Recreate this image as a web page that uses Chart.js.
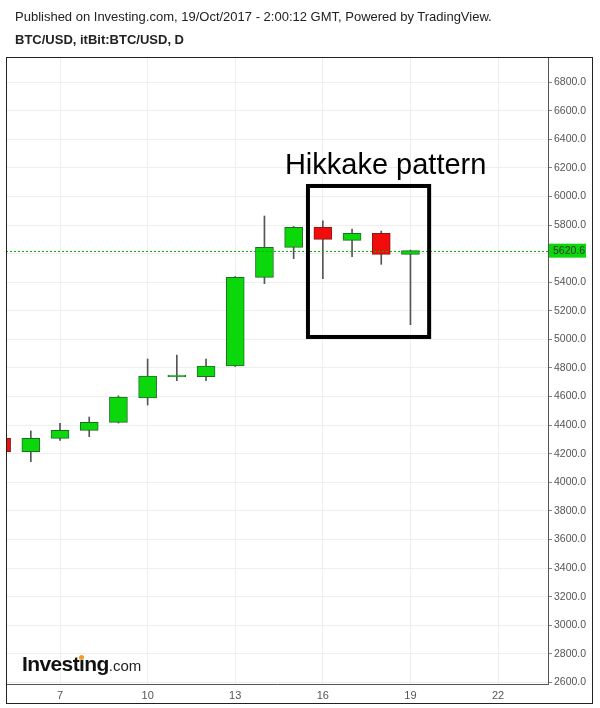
<!DOCTYPE html>
<html>
<head>
<meta charset="utf-8">
<script src="https://cdn.jsdelivr.net/npm/chart.js@4"></script>
<style>
  html, body { margin: 0; padding: 0; background: #fff; }
  #wrap { position: relative; width: 600px; height: 708px; font-family: Arial, "Liberation Sans", sans-serif; }
  #graph1 { position: absolute; left: 0; top: 0; }
  .hdr { position: absolute; left: 15px; font-size: 13px; color: #222; white-space: nowrap; }
  #logo { position: absolute; left: 22px; top: 652px; white-space: nowrap; color: #111; }
  #logo b { font-size: 21px; letter-spacing: -0.6px; }
  #logo span { font-size: 15px; color: #222; }
  #dot { position: absolute; width: 5px; height: 5px; border-radius: 50%; background: #f0a020; }
</style>
</head>
<body>
<div id="wrap">
  <canvas id="graph1" width="600" height="708"></canvas>
  <div class="hdr" style="top:9px">Published on Investing.com, 19/Oct/2017 - 2:00:12 GMT, Powered by TradingView.</div>
  <div class="hdr" style="top:32px;font-weight:bold">BTC/USD, itBit:BTC/USD, D</div>
  <div id="logo"><b id="brand">Invest<i id="ii" style="font-style:normal">i</i>ng</b><span>.com</span></div>
  <div id="dot"></div>
</div>
<script>
// dias de outubro e valores OHLC
const days   = [5, 6, 7, 8, 9, 10, 11, 12, 13, 14, 15, 16, 17, 18, 19];
const opens  = [4308, 4215, 4308, 4364, 4420, 4590, 4740, 4740, 4814, 5434, 5644, 5784, 5693, 5742, 5595];
const highs  = [4320, 4360, 4413, 4457, 4605, 4863, 4891, 4863, 5440, 5863, 5790, 5830, 5772, 5758, 5625];
const lows   = [4200, 4145, 4294, 4320, 4415, 4541, 4712, 4712, 4810, 5390, 5565, 5425, 5579, 5525, 5103];
const closes = [4215, 4308, 4364, 4420, 4597, 4744, 4750, 4814, 5434, 5644, 5784, 5700, 5742, 5595, 5620.6];

const xTicks = [7, 10, 13, 16, 19, 22];
const yTicks = [2600, 2800, 3000, 3200, 3400, 3600, 3800, 4000, 4200, 4400, 4600, 4800,
                5000, 5200, 5400, 5600, 5800, 6000, 6200, 6400, 6600, 6800];

const lastPrice = 5620.6;
const boxLabel = 'Hikkake pattern';
const boxX = [15.49, 19.64];
const boxY = [5017, 6073];

const bodies = days.map((d, i) => ({ x: d, y: [opens[i], closes[i]] }));
const wicks = days.map((d, i) => ({ x: d, y: [lows[i], highs[i]] }));
const isUp = i => closes[i] >= opens[i];

// pingo laranja do logo, posto sobre o "i"
(function () {
    const ii = document.getElementById('ii').getBoundingClientRect();
    const dot = document.getElementById('dot');
    dot.style.left = (ii.left + ii.width / 2 - 2.5) + 'px';
    dot.style.top = (ii.top + ii.height * 0.22 - 2) + 'px';
})();

const extras = {
    id: 'extras',
    afterDatasetsDraw(chart) {
        const ctx = chart.ctx;
        const xs = chart.scales.x, ys = chart.scales.y;
        const area = chart.chartArea;
        ctx.save();
        // linha do último preço
        const py = Math.round(ys.getPixelForValue(lastPrice)) + 0.5;
        ctx.strokeStyle = '#00b400';
        ctx.lineWidth = 1;
        ctx.setLineDash([2, 2]);
        ctx.beginPath();
        ctx.moveTo(area.left, py);
        ctx.lineTo(area.right, py);
        ctx.stroke();
        ctx.setLineDash([]);
        // caixa do padrão
        ctx.strokeStyle = '#000';
        ctx.lineWidth = 4;
        const x1 = xs.getPixelForValue(boxX[0]), x2 = xs.getPixelForValue(boxX[1]);
        const y1 = ys.getPixelForValue(boxY[1]), y2 = ys.getPixelForValue(boxY[0]);
        ctx.strokeRect(x1, y1, x2 - x1, y2 - y1);
        ctx.fillStyle = '#000';
        ctx.font = '29px Arial, "Liberation Sans"';
        ctx.textAlign = 'center';
        ctx.textBaseline = 'alphabetic';
        ctx.fillText(boxLabel, xs.getPixelForValue(18.15), y1 - 12);
        ctx.restore();
    },
    afterDraw(chart) {
        const ctx = chart.ctx;
        const ys = chart.scales.y;
        const area = chart.chartArea;
        ctx.save();
        // etiqueta de preço
        const py = ys.getPixelForValue(lastPrice);
        ctx.fillStyle = '#0bd80b';
        ctx.fillRect(area.right + 1, py - 7, 37, 14);
        ctx.fillStyle = '#333';
        ctx.font = '10.5px Arial, "Liberation Sans"';
        ctx.textBaseline = 'middle';
        ctx.textAlign = 'left';
        ctx.fillText(lastPrice.toFixed(1), area.right + 5, py + 0.5);
        // moldura
        ctx.strokeStyle = '#222';
        ctx.lineWidth = 1;
        ctx.strokeRect(6.5, 57.5, 586, 646);
        ctx.restore();
    }
};

new Chart(document.getElementById('graph1').getContext('2d'), {
    type: 'bar',
    data: {
        datasets: [{
            label: 'corpo',
            data: bodies,
            grouped: false,
            order: 1,
            barThickness: 18,
            backgroundColor: ctx => isUp(ctx.dataIndex) ? '#0bd80b' : '#f20c0c',
            borderColor: ctx => isUp(ctx.dataIndex) ? '#1f6b26' : '#8a1a1a',
            borderWidth: 1,
            borderSkipped: false
        }, {
            label: 'sombra',
            data: wicks,
            grouped: false,
            order: 2,
            barThickness: 1,
            backgroundColor: '#555',
            borderWidth: 0
        }]
    },
    options: {
        responsive: false,
        animation: false,
        layout: { padding: { top: 57, left: 6, right: 7, bottom: 5 } },
        plugins: { legend: { display: false }, tooltip: { enabled: false } },
        scales: {
            x: {
                type: 'linear',
                offset: false,
                min: 5.15,
                max: 23.71,
                afterBuildTicks: s => { s.ticks = xTicks.map(v => ({ value: v })); },
                afterFit: s => { s.height = 19; },
                grid: { color: '#eeeeee', drawTicks: false, offset: false },
                border: { color: '#555' },
                ticks: { color: '#555', padding: 5, font: { size: 11, family: 'Arial' } }
            },
            y: {
                position: 'right',
                min: 2590,
                max: 6975,
                afterBuildTicks: s => { s.ticks = yTicks.map(v => ({ value: v })); },
                afterFit: s => { s.width = 45; },
                grid: { color: '#eeeeee', tickColor: '#888', tickLength: 4 },
                border: { color: '#555' },
                ticks: {
                    color: '#555',
                    padding: 2,
                    font: { size: 10.5, family: 'Arial' },
                    callback: v => v.toFixed(1)
                }
            }
        }
    },
    plugins: [extras]
});
</script>
</body>
</html>
